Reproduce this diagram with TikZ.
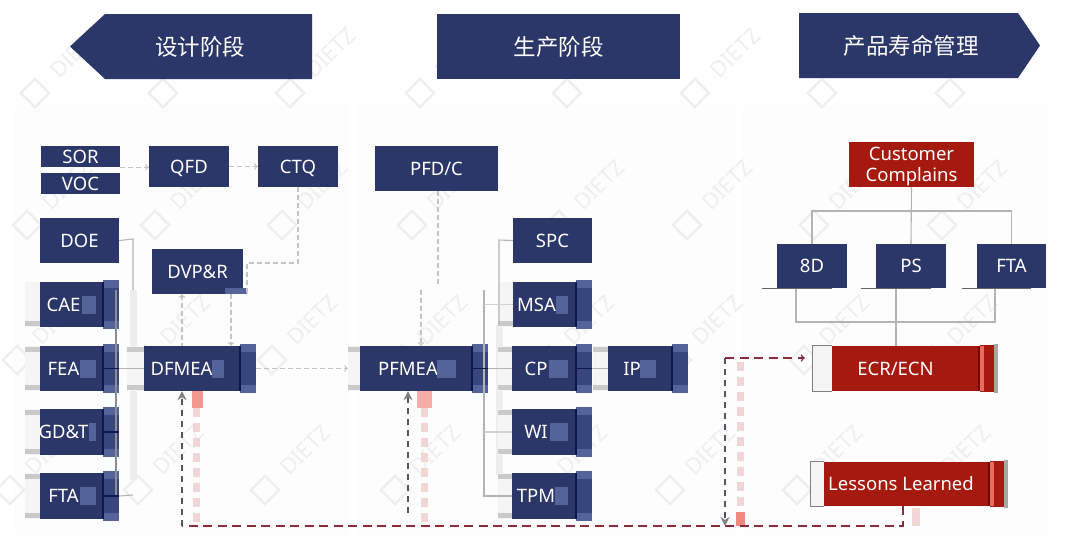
\documentclass[tikz,border=0pt]{standalone}
\usepackage{fontspec}
\usetikzlibrary{arrows.meta}
\setmainfont{Noto Sans}
\newfontfamily\cjkfont{Noto Sans CJK SC}

\definecolor{navy}{HTML}{2B3769}
\definecolor{navylight}{HTML}{37467C}
\definecolor{navyedge}{HTML}{546399}
\definecolor{navydark}{HTML}{10174A}
\definecolor{boxred}{HTML}{A5190F}
\definecolor{reddark}{HTML}{6B0A05}
\definecolor{redlight}{HTML}{EE6A5E}
\definecolor{markgray}{HTML}{EFEFEF}
\definecolor{linegray}{HTML}{B4B4B4}
\definecolor{dashgray}{HTML}{C4C4C4}
\definecolor{darkdash}{HTML}{55555F}
\definecolor{reddash}{HTML}{8C2A3A}
\definecolor{pinkdash}{HTML}{F1D6D6}

\tikzset{
  bluebox/.style={fill=navy, text=white, inner sep=0pt, font=\fontsize{18.5}{21}\selectfont, align=center},
  redbox/.style={bluebox, fill=boxred},
  headtext/.style={text=white, inner sep=0pt, font=\cjkfont\fontsize{22.5}{26}\selectfont},
  striplabel/.style={text=white, inner sep=0pt, font=\fontsize{18.5}{21}\selectfont},
  stripbox/.style={bluebox, label={[striplabel, xshift=-16]center:#1}},
  solidline/.style={draw=linegray, line width=1.1pt},
  smear/.style={draw=black!7, line width=7pt},
  graydash/.style={draw=dashgray, line width=1.3pt, dash pattern=on 5pt off 3pt},
  blackdash/.style={draw=darkdash, line width=1.3pt, dash pattern=on 6pt off 5pt},
  bigtip/.style={-{Stealth[length=9pt, width=9pt, color=black!50]}},
  redline/.style={draw=reddash, line width=1.6pt, dash pattern=on 9pt off 5.5pt},
  pinkline/.style={draw=pinkdash, line width=7pt, dash pattern=on 9pt off 6pt},
}

\begin{document}
\begin{tikzpicture}[x=1pt, y=-1pt, >=stealth]
  \useasboundingbox (0,0) rectangle (1080,547);
  \fill[white] (0,0) rectangle (1080,547);

  % panels
  \fill[black!0.8, rounded corners=6pt] (14,105) rectangle (350,535);
  \fill[black!0.8, rounded corners=6pt] (356,105) rectangle (735,535);
  \fill[black!0.8, rounded corners=6pt] (742,105) rectangle (1047,535);

  % watermark
  \foreach \y/\dx in {93/0, 225/-8, 360/-18, 490/-25} {
    \foreach \x in {35,163,290,420,567,695,822,950} {
      \draw[markgray, line width=2.5pt, rotate around={45:(\x+\dx,\y)}] (\x+\dx-10,\y-10) rectangle (\x+\dx+10,\y+10);
      \node[rotate=45, text=markgray, font=\fontsize{22}{24}\selectfont, inner sep=0pt] (mark\x\y) at (\x+\dx+40,\y-40) {DIETZ};
    }
  }

  % headers
  \fill[navy] (70,46.5) -- (105,14) -- (312,14) -- (312,79) -- (105,79) -- cycle;
  \node[headtext] (design) at (200,47) {设计阶段};
  \node[fill=navy, minimum width=243, minimum height=65, headtext] (production) at (558.5,46.5) {生产阶段};
  \fill[navy] (799,13) -- (1018,13) -- (1040,45.5) -- (1018,78) -- (799,78) -- cycle;
  \node[headtext] (lifecycle) at (911,46) {产品寿命管理};

  % bends
  \coordinate (busl) at (133,239);
  \coordinate (busm) at (133,290);
  \coordinate (busb) at (133,495);
  \coordinate (busi) at (116,290);
  \coordinate (ctqb) at (247,263);
  \coordinate (dvpd) at (231,0);
  \coordinate (dfup) at (182,526);
  \coordinate (busr) at (499,240);
  \coordinate (busn) at (499,325);
  \coordinate (busj) at (484,290);
  \coordinate (pfup) at (408,513);
  \coordinate (pfdb) at (438,287);
  \coordinate (pfda) at (421,290);
  \coordinate (treet) at (911.5,211);
  \coordinate (treel) at (796,322);
  \coordinate (treer) at (995,322);
  \coordinate (treem) at (896,0);
  \coordinate (redj) at (725,526);
  \coordinate (redt) at (725,358);
  \coordinate (redr) at (903,526);

  % pink smears
  \draw[pinkline] (196,408) -- (196,526);
  \draw[pinkline] (424,408) -- (424,526);
  \draw[pinkline] (740,362) -- (740,512);
  \fill[redlight!70] (192,391) rectangle (203,408);
  \fill[redlight!55] (417,391) rectangle (432,408);
  \fill[redlight!80] (736,512) rectangle (745,526);
  \fill[pinkdash] (912,508) rectangle (920,526);
  \draw[smear] (busm) -- (133,480);
  \draw[smear] (busn) -- (499,475);

  % positions
  \node[bluebox, minimum width=79, minimum height=21] (sor) at (80.5,156.5) {SOR};
  \node[bluebox, minimum width=79, minimum height=21] (voc) at (80.5,183.5) {VOC};
  \node[bluebox, text depth=0pt, minimum width=80, minimum height=41] (qfd) at (189,166.5) {QFD};
  \node[bluebox, text depth=0pt, minimum width=80, minimum height=41] (ctq) at (298,166.5) {CTQ};
  \node[bluebox, minimum width=79, minimum height=45] (doe) at (79.5,240.5) {DOE};
  \node[bluebox, minimum width=91, minimum height=45] (dvpr) at (197.5,271.5) {DVP\&R};
  \node[stripbox=CAE, minimum width=79, minimum height=45] (cae) at (79.5,304.5) {};
  \node[stripbox=FEA, minimum width=79, minimum height=45] (fea) at (79.5,368.5) {};
  \node[stripbox=GD\&T, minimum width=79, minimum height=46] (gdt) at (79.5,432) {};
  \node[stripbox=FTA, minimum width=79, minimum height=46] (ftal) at (79.5,496) {};
  \node[bluebox, label={[striplabel, xshift=-18.5]center:DFMEA}, minimum width=112, minimum height=45] (dfmea) at (200,368.5) {};

  \node[bluebox, text depth=0pt, minimum width=123, minimum height=45] (pfd) at (436.5,168.5) {PFD/C};
  \node[stripbox=PFMEA, minimum width=128, minimum height=45] (pfmea) at (424,368.5) {};
  \node[bluebox, minimum width=79, minimum height=45] (spc) at (552.5,240.5) {SPC};
  \node[stripbox=MSA, minimum width=79, minimum height=45] (msa) at (552.5,304.5) {};
  \node[stripbox=CP, minimum width=80, minimum height=45] (cp) at (552,368.5) {};
  \node[stripbox=IP, minimum width=80, minimum height=45] (ip) at (648,368.5) {};
  \node[stripbox=WI, minimum width=80, minimum height=46] (wi) at (552,432) {};
  \node[stripbox=TPM, minimum width=80, minimum height=46] (tpm) at (552,496) {};

  \node[redbox, text depth=0pt, minimum width=125, minimum height=45] (complains) at (911.5,164.5) {Customer\\Complains};
  \node[bluebox, minimum width=70, minimum height=44] (ed) at (812,266) {8D};
  \node[bluebox, minimum width=70, minimum height=44] (ps) at (911,266) {PS};
  \node[bluebox, minimum width=69, minimum height=44] (ftar) at (1011.5,266) {FTA};
  \node[redbox, label={[striplabel, xshift=-19.5]center:ECR/ECN}, minimum width=166, minimum height=45] (ecr) at (915,368.5) {};
  \node[redbox, label={[striplabel, xshift=-15]center:Lessons Learned}, minimum width=184, minimum height=44] (lessons) at (916,484) {};

  % side stripes
  \foreach \n/\w in {cae/15, fea/15, gdt/15, ftal/15, dfmea/17, pfmea/12, msa/15, cp/14, ip/15, wi/14, tpm/14} {
    \fill[black!4] ([xshift=-\w]\n.north west) rectangle (\n.south west);
    \fill[linegray!70] ([xshift=-\w,yshift=1]\n.south west) rectangle ([yshift=6]\n.south west);
    \fill[navyedge] ([xshift=-16,yshift=2]\n.north east) rectangle ([yshift=-2]\n.south east);
    \fill[navylight] ([xshift=-15,yshift=-6]\n.north east) rectangle ([yshift=6]\n.south east);
    \fill[navydark] ([xshift=-17]\n.north east) rectangle ([xshift=-15]\n.south east);
  }
  \foreach \n/\w in {fea/15, gdt/15, ftal/15, dfmea/17, pfmea/12, cp/14, ip/15, wi/14, tpm/14} {
    \fill[linegray!70] ([xshift=-\w,yshift=-1]\n.north west) rectangle ([yshift=-6]\n.north west);
  }
  \foreach \n/\w in {ecr/19, lessons/13} {
    \fill[black!4] ([xshift=-\w]\n.north west) rectangle (\n.south west);
    \draw[black!50, line width=0.9pt] (\n.north west) -- ([xshift=-\w]\n.north west) -- ([xshift=-\w]\n.south west) -- (\n.south west);
    \fill[boxred] ([xshift=-18,yshift=1]\n.north east) rectangle ([yshift=-1]\n.south east);
    \fill[reddark] ([xshift=-20]\n.north east) rectangle ([xshift=-18]\n.south east);
    \fill[redlight] ([xshift=-18]\n.north east) rectangle ([xshift=-14]\n.south east);
    \fill[black!35] ([xshift=-4,yshift=2]\n.north east) rectangle ([yshift=-2]\n.south east);
  }
  \fill[navyedge] (225,288) rectangle (247,294);

  % arrows
  \draw[graydash, -to] (sor.south east) -- (sor.south east -| qfd.west);
  \draw[graydash, -to] (qfd.east) -- (ctq.west);
  \draw[graydash] (ctq.south) |- (ctqb) -- (ctqb |- dvpr.south);
  \draw[graydash, -to] (dvpd |- dvpr.south) -- (dvpd |- dfmea.north);
  \draw[graydash, to-] (dfup |- dvpr.south) -- (dfup |- dfmea.north);
  \draw[graydash, -to, shorten >=12pt] (dfmea.east) -- (pfmea.west);
  \draw[graydash] (pfd.south -| pfdb) -- (pfdb);
  \draw[graydash, -to] (pfda) -- (pfda |- pfmea.north);

  \draw[solidline] (doe.east) -- (busl) -- (busm);
  \draw[solidline] (ftal.east) -- (busb);
  \draw[solidline] (fea.east) -- (dfmea.west);
  \draw[black!45, line width=1.1pt] (busi) -- (busi |- ftal.center);
  \foreach \n in {fea, gdt, ftal} {
    \draw[navydark, line width=1.1pt] ([xshift=-15]\n.east) -- (\n.east);
  }

  \draw[solidline] (spc.west) -- (busr) -- (busn);
  \draw[solidline] (busj) -- (busj |- tpm.west) -- (tpm.west);
  \draw[solidline, linegray!60] (busj |- msa.west) -- (msa.west);
  \draw[solidline, linegray!60] (busj |- wi.west) -- (wi.west);
  \draw[solidline] (pfmea.east) -- (cp.west);
  \draw[solidline] (cp.east) -- (ip.west);
  \draw[navydark, line width=1.1pt] ([xshift=-15]pfmea.east) -- (pfmea.east);
  \draw[navydark, line width=1.1pt] ([xshift=-15]cp.east) -- (cp.east);

  \draw[solidline] (complains.south) -- (ps.north);
  \draw[solidline] (ed.north) |- (treet);
  \draw[solidline] (ftar.north) |- (treet);
  \draw[solidline] (treel |- ed.south) -- (treel) -- (treer) -- (treer |- ftar.south);
  \draw[solidline] (treem |- ps.south) -- (treem |- ecr.north);
  \foreach \n in {ed, ps, ftar} {
    \draw[black!60, line width=0.8pt] ([xshift=-15]\n.south west) -- ([xshift=-15]\n.south east);
  }

  \draw[blackdash, bigtip] (dfup) -- (dfup |- dfmea.south);
  \draw[blackdash, bigtip] (pfup) -- (pfup |- pfmea.south);
  \draw[redline] (lessons.south -| redr) -- (redr) -- (dfup);
  \draw[blackdash, bigtip] (redt) -- (redj);
  \draw[redline, -to, shorten >=27pt] (redt) -- (redt -| ecr.west);

  % pale blocks beside the texts
  \foreach \n/\xa/\xb in {cae/82/96, fea/80/96, gdt/89/96, ftal/80/96, dfmea/212/224, pfmea/437/456, msa/556/568, cp/549/568, ip/640/656, wi/550/568, tpm/555/568} {
    \fill[navyedge] (\xa,0 |- \n.center) ++(0,-9) rectangle ++(\xb-\xa,18);
  }

\end{tikzpicture}
\end{document}
